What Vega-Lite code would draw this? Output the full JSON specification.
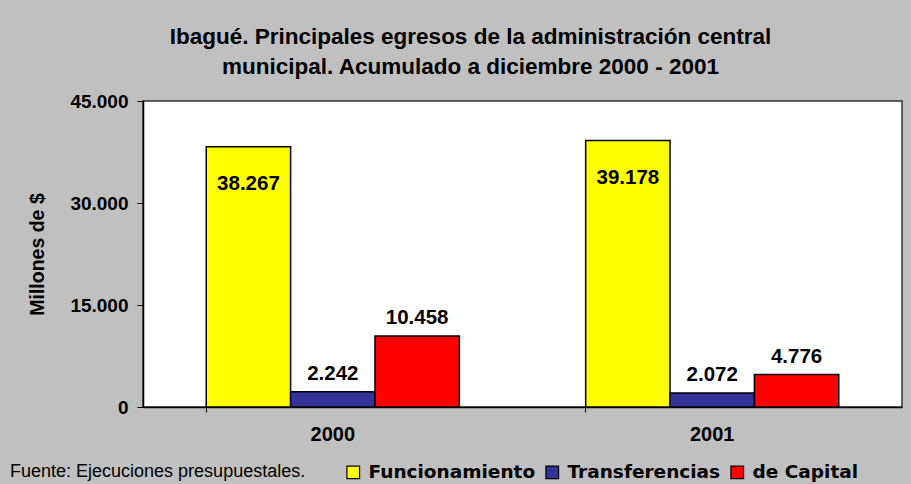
{
  "$schema": "https://vega.github.io/schema/vega-lite/v6.json",
  "width": 759,
  "height": 306,
  "autosize": {"type": "none"},
  "padding": {"left": 143, "top": 101, "right": 9, "bottom": 77},
  "background": "#C0C0C0",
  "config": {
    "font": "Liberation Sans",
    "locale": {"number": {"decimal": ",", "thousands": ".", "grouping": [3], "currency": ["$", ""]}},
    "view": {"fill": "white", "stroke": "#333333", "strokeWidth": 1.5}
  },
  "title": {
    "text": ["Ibagué. Principales egresos de la administración central", "municipal. Acumulado a diciembre 2000 - 2001"],
    "font": "Liberation Sans",
    "fontSize": 22.5,
    "fontWeight": "bold",
    "color": "black",
    "lineHeight": 30,
    "anchor": "middle",
    "dx": -52,
    "offset": 14
  },
  "data": {
    "values": [
      {"year": "2000", "tipo": "Funcionamiento", "valor": 38267},
      {"year": "2000", "tipo": "Transferencias", "valor": 2242},
      {"year": "2000", "tipo": "de Capital", "valor": 10458},
      {"year": "2001", "tipo": "Funcionamiento", "valor": 39178},
      {"year": "2001", "tipo": "Transferencias", "valor": 2072},
      {"year": "2001", "tipo": "de Capital", "valor": 4776}
    ]
  },
  "encoding": {
    "x": {
      "field": "year",
      "type": "nominal",
      "scale": {"paddingInner": 0.333, "paddingOuter": 0.1667},
      "axis": {
        "title": null,
        "labelAngle": 0,
        "labelFont": "Liberation Sans",
        "labelFontSize": 20,
        "labelFontWeight": "bold",
        "labelColor": "black",
        "labelPadding": 12,
        "domainColor": "black",
        "domainWidth": 1.5,
        "tickColor": "black",
        "tickSize": 5,
        "bandPosition": 0
      }
    },
    "xOffset": {"field": "tipo", "type": "nominal", "sort": ["Funcionamiento", "Transferencias", "de Capital"], "scale": {"paddingInner": 0, "paddingOuter": 0}},
    "y": {
      "field": "valor",
      "type": "quantitative",
      "scale": {"domain": [0, 45000]},
      "axis": {
        "title": "Millones de $",
        "titleFont": "Liberation Sans",
        "titleFontSize": 19.5,
        "titleFontWeight": "bold",
        "titleColor": "black",
        "titlePadding": 22,
        "values": [0, 15000, 30000, 45000],
        "format": ",.0f",
        "labelFont": "Liberation Sans",
        "labelFontSize": 19,
        "labelFontWeight": "bold",
        "labelColor": "black",
        "labelPadding": 9,
        "grid": false,
        "domainColor": "black",
        "domainWidth": 1.5,
        "tickColor": "black",
        "tickSize": 6
      }
    }
  },
  "layer": [
    {
      "mark": {"type": "bar", "stroke": "black", "strokeWidth": 1.5},
      "encoding": {
        "color": {
          "field": "tipo",
          "type": "nominal",
          "sort": ["Funcionamiento", "Transferencias", "de Capital"],
          "scale": {"domain": ["Funcionamiento", "Transferencias", "de Capital"], "range": ["#FFFF00", "#333399", "#FF0000"]},
          "legend": {
            "title": "Fuente: Ejecuciones presupuestales.",
            "titleOrient": "left",
            "titleFont": "Liberation Sans",
            "titleFontSize": 18,
            "titleFontWeight": "normal",
            "titleColor": "black",
            "titleLimit": 400,
            "titlePadding": 38,
            "titleBaseline": "middle",
            "orient": "none",
            "direction": "horizontal",
            "legendX": -133,
            "legendY": 362,
            "symbolType": "square",
            "symbolSize": 160,
            "symbolStrokeColor": "black",
            "symbolStrokeWidth": 1.2,
            "symbolOpacity": 1,
            "labelFont": "DejaVu Sans",
            "labelFontSize": 18.5,
            "labelFontWeight": "bold",
            "labelColor": "black",
            "labelLimit": 300,
            "labelOffset": 6,
            "columnPadding": 7
          }
        }
      }
    },
    {
      "transform": [{"filter": "datum.tipo === 'Funcionamiento'"}],
      "mark": {"type": "text", "font": "Liberation Sans", "fontSize": 20.5, "fontWeight": "bold", "color": "black", "baseline": "middle", "dy": 37},
      "encoding": {"text": {"field": "valor", "type": "quantitative", "format": ",.0f"}}
    },
    {
      "transform": [{"filter": "datum.tipo !== 'Funcionamiento'"}],
      "mark": {"type": "text", "font": "Liberation Sans", "fontSize": 20.5, "fontWeight": "bold", "color": "black", "baseline": "bottom", "dy": -8},
      "encoding": {"text": {"field": "valor", "type": "quantitative", "format": ",.0f"}}
    }
  ]
}
